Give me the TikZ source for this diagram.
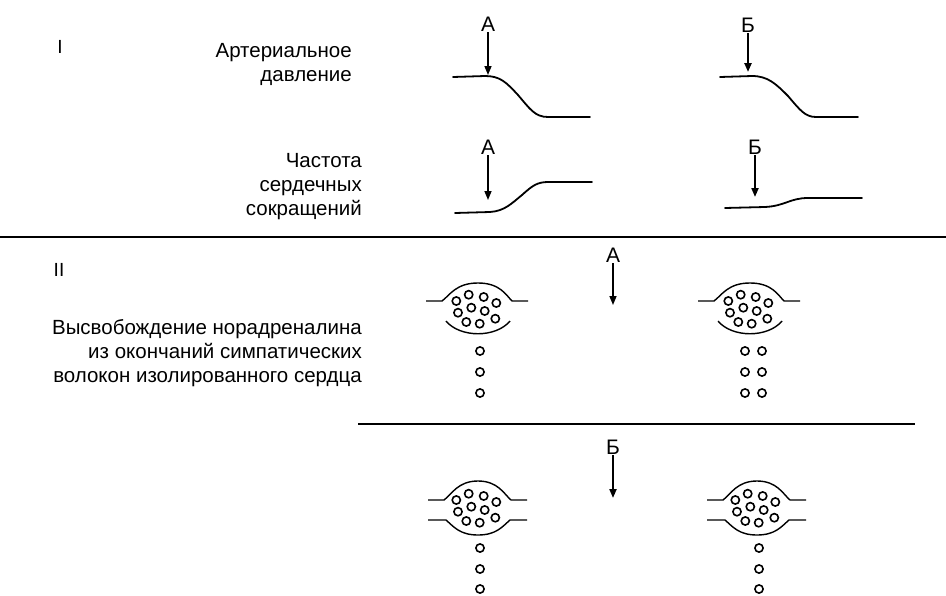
\documentclass[tikz,border=0pt]{standalone}
\usepackage{fontspec}
\setmainfont{Liberation Sans}
\usetikzlibrary{arrows.meta}
\begin{document}
\begin{tikzpicture}[x=1pt,y=-1pt,
  curve/.style={line width=1.8pt, line cap=round},
  marker/.style={line width=1.5pt, -{Triangle[length=9pt,width=7pt]}},
  rule/.style={line width=1.8pt},
  caption/.style={inner sep=0pt, anchor=base east,
    font=\fontsize{20.5}{24}\selectfont},
  letter/.style={inner sep=1pt, font=\fontsize{21}{21}\selectfont},
  numeral/.style={inner sep=0pt, anchor=base, font=\fontsize{19}{19}\selectfont},
  membrane/.style={line width=1.4pt},
  granule/.style={line width=1.6pt},
  pics/granules/.style={code={
    \foreach \gx/\gy in {-21.7/0,-9.3/-6.3,5.7/-4,18.3/2,-20/11.7,-6.7/6.7,
                         6.7/10,-11.7/21,1.7/22.7,17.3/17.7}
      \draw[granule] (\gx,\gy) circle (4.1pt);
  }},
  % nerve ending: swelling closed by an open lower wall
  pics/endingopen/.style={code={
    \draw[membrane] (-52,0) -- (-36,0) .. controls (-28,-6) and (-22,-18) .. (0,-18)
      .. controls (22,-18) and (28,-6) .. (34,0) -- (50,0);
    \draw[membrane] (-32,20) .. controls (-18,37) and (18,37) .. (32,20);
    \pic {granules};
  }},
  % varicosity on a fibre that continues on both sides
  pics/endingthrough/.style={code={
    \draw[membrane] (-50,0) -- (-34,0) .. controls (-26,-6) and (-20,-19) .. (0,-19)
      .. controls (20,-19) and (26,-6) .. (33,0) -- (49,0);
    \draw[membrane] (-50,20) -- (-32,20) .. controls (-24,27) and (-18,35) .. (0,35)
      .. controls (18,35) and (24,27) .. (32,20) -- (49,20);
    \pic {granules};
  }}
]
\useasboundingbox (0,0) rectangle (946,595);

% ---- part I: recordings ----
\node[numeral] (nI) at (60,53) {I};
\node[caption] (bp1) at (352,57) {Артериальное};
\node[caption] (bp2) at (352,81) {давление};
\node[caption] (hr1) at (362,167) {Частота};
\node[caption] (hr2) at (362,191) {сердечных};
\node[caption] (hr3) at (362,215) {сокращений};

% arterial pressure, injection A
\draw[curve] (453,77) -- (485,76) .. controls (500,76) and (506,82) .. (518,95)
  .. controls (530,109) and (535,117) .. (548,117) -- (590,117);
\node[letter] (a1) at (488,24) {А};
\coordinate (a1t) at (488,75);
\draw[marker] (a1) -- (a1t);

% heart rate, injection A
\draw[curve] (455,213) -- (490,212) .. controls (505,211) and (512,203) .. (522,195)
  .. controls (532,186) and (537,182) .. (548,182) -- (592,182);
\node[letter] (a2) at (488,147) {А};
\coordinate (a2t) at (488,200);
\draw[marker] (a2) -- (a2t);

% arterial pressure, injection B
\draw[curve] (720,77) -- (752,76) .. controls (768,76) and (776,84) .. (788,96)
  .. controls (800,110) and (805,117) .. (816,117) -- (858,117);
\node[letter] (b1) at (748,25) {Б};
\coordinate (b1t) at (748,72);
\draw[marker, line width=2.2pt] (b1) -- (b1t);

% heart rate, injection B
\draw[curve] (725,208) -- (765,207) .. controls (785,206) and (790,198) .. (808,198)
  -- (862,198);
\node[letter] (b2) at (755,147) {Б};
\coordinate (b2t) at (755,197);
\draw[marker, line width=2pt] (b2) -- (b2t);

% ---- separators ----
\coordinate (r1a) at (0,237);
\coordinate (r1b) at (946,237);
\draw[rule] (r1a) -- (r1b);
\coordinate (r2a) at (358,424);
\coordinate (r2b) at (915,424);
\draw[rule] (r2a) -- (r2b);

% ---- part II: transmitter release ----
\node[numeral] (nII) at (59,276) {II};
\node[caption] (rel1) at (362,334) {Высвобождение норадреналина};
\node[caption] (rel2) at (362,358) {из окончаний симпатических};
\node[caption] (rel3) at (362,382) {волокон изолированного сердца};

% release after A
\node[letter] (a3) at (613,255) {А};
\coordinate (a3t) at (613,305);
\draw[marker] (a3) -- (a3t);
\pic at (478,301) {endingopen};
\foreach \vy in {351,372,393} \draw[granule] (480,\vy) circle (4.1pt);
\pic at (750,301) {endingopen};
\foreach \vy in {351,372,393} {
  \draw[granule] (745,\vy) circle (4.1pt);
  \draw[granule] (762,\vy) circle (4.1pt);
}

% release after B
\node[letter] (b3) at (613,447) {Б};
\coordinate (b3t) at (613,498);
\draw[marker, line width=2pt] (b3) -- (b3t);
\pic at (478,500) {endingthrough};
\foreach \vy in {548,569,589} \draw[granule] (480,\vy) circle (4.1pt);
\pic at (757,500) {endingthrough};
\foreach \vy in {548,569,589} \draw[granule] (759,\vy) circle (4.1pt);
\end{tikzpicture}
\end{document}
